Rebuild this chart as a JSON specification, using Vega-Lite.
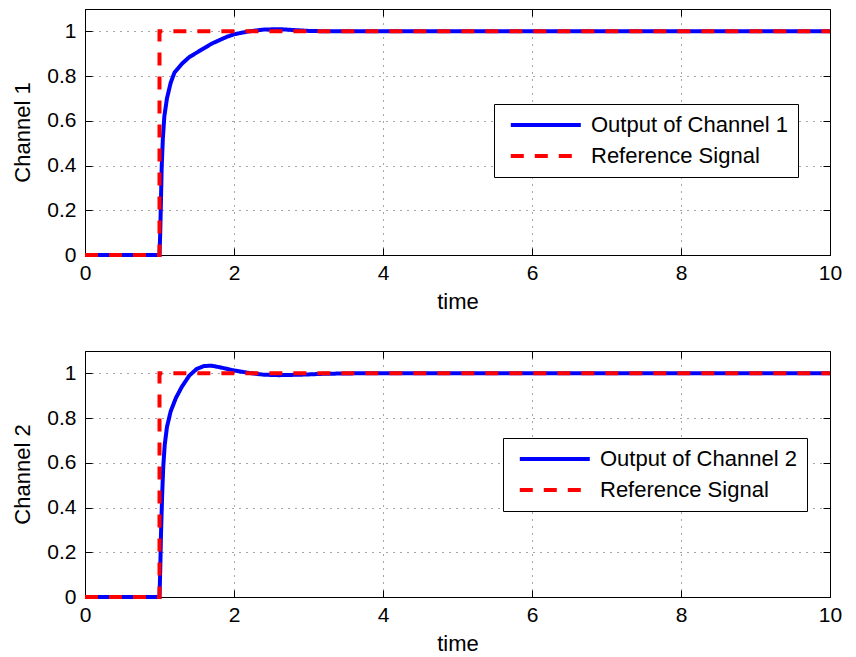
{
  "$schema": "https://vega.github.io/schema/vega-lite/v6.json",
  "padding": {"left": 11, "top": 8, "right": 20, "bottom": 5},
  "datasets": {
    "ch1": [
      {"t": 0, "v": 0, "series": "Output of Channel 1"},
      {"t": 1.0, "v": 0, "series": "Output of Channel 1"},
      {"t": 1.01, "v": 0.1, "series": "Output of Channel 1"},
      {"t": 1.02, "v": 0.25, "series": "Output of Channel 1"},
      {"t": 1.03, "v": 0.4, "series": "Output of Channel 1"},
      {"t": 1.045, "v": 0.52, "series": "Output of Channel 1"},
      {"t": 1.065, "v": 0.62, "series": "Output of Channel 1"},
      {"t": 1.1, "v": 0.7, "series": "Output of Channel 1"},
      {"t": 1.15, "v": 0.77, "series": "Output of Channel 1"},
      {"t": 1.2, "v": 0.815, "series": "Output of Channel 1"},
      {"t": 1.3, "v": 0.855, "series": "Output of Channel 1"},
      {"t": 1.4, "v": 0.885, "series": "Output of Channel 1"},
      {"t": 1.5, "v": 0.905, "series": "Output of Channel 1"},
      {"t": 1.6, "v": 0.925, "series": "Output of Channel 1"},
      {"t": 1.7, "v": 0.945, "series": "Output of Channel 1"},
      {"t": 1.8, "v": 0.96, "series": "Output of Channel 1"},
      {"t": 1.9, "v": 0.975, "series": "Output of Channel 1"},
      {"t": 2.0, "v": 0.987, "series": "Output of Channel 1"},
      {"t": 2.2, "v": 1.0, "series": "Output of Channel 1"},
      {"t": 2.4, "v": 1.008, "series": "Output of Channel 1"},
      {"t": 2.6, "v": 1.01, "series": "Output of Channel 1"},
      {"t": 2.8, "v": 1.006, "series": "Output of Channel 1"},
      {"t": 3.0, "v": 1.002, "series": "Output of Channel 1"},
      {"t": 3.3, "v": 1.0, "series": "Output of Channel 1"},
      {"t": 10, "v": 1.0, "series": "Output of Channel 1"},
      {"t": 0, "v": 0, "series": "Reference Signal"},
      {"t": 1, "v": 0, "series": "Reference Signal"},
      {"t": 1, "v": 1, "series": "Reference Signal"},
      {"t": 10, "v": 1, "series": "Reference Signal"}
    ],
    "ch2": [
      {"t": 0, "v": 0, "series": "Output of Channel 2"},
      {"t": 1.0, "v": 0, "series": "Output of Channel 2"},
      {"t": 1.01, "v": 0.12, "series": "Output of Channel 2"},
      {"t": 1.02, "v": 0.28, "series": "Output of Channel 2"},
      {"t": 1.035, "v": 0.45, "series": "Output of Channel 2"},
      {"t": 1.05, "v": 0.58, "series": "Output of Channel 2"},
      {"t": 1.07, "v": 0.68, "series": "Output of Channel 2"},
      {"t": 1.1, "v": 0.76, "series": "Output of Channel 2"},
      {"t": 1.15, "v": 0.83, "series": "Output of Channel 2"},
      {"t": 1.22, "v": 0.89, "series": "Output of Channel 2"},
      {"t": 1.3, "v": 0.94, "series": "Output of Channel 2"},
      {"t": 1.4, "v": 0.99, "series": "Output of Channel 2"},
      {"t": 1.5, "v": 1.02, "series": "Output of Channel 2"},
      {"t": 1.6, "v": 1.033, "series": "Output of Channel 2"},
      {"t": 1.7, "v": 1.034, "series": "Output of Channel 2"},
      {"t": 1.8, "v": 1.028, "series": "Output of Channel 2"},
      {"t": 2.0, "v": 1.013, "series": "Output of Channel 2"},
      {"t": 2.2, "v": 1.002, "series": "Output of Channel 2"},
      {"t": 2.4, "v": 0.994, "series": "Output of Channel 2"},
      {"t": 2.6, "v": 0.992, "series": "Output of Channel 2"},
      {"t": 2.9, "v": 0.994, "series": "Output of Channel 2"},
      {"t": 3.2, "v": 0.998, "series": "Output of Channel 2"},
      {"t": 3.6, "v": 1.0, "series": "Output of Channel 2"},
      {"t": 10, "v": 1.0, "series": "Output of Channel 2"},
      {"t": 0, "v": 0, "series": "Reference Signal"},
      {"t": 1, "v": 0, "series": "Reference Signal"},
      {"t": 1, "v": 1, "series": "Reference Signal"},
      {"t": 10, "v": 1, "series": "Reference Signal"}
    ]
  },
  "spacing": 37,
  "vconcat": [
    {
      "width": 745,
      "height": 246,
      "data": {"name": "ch1"},
      "layer": [
        {
          "mark": {"type": "line", "strokeWidth": 4},
          "encoding": {
            "x": {"field": "t", "type": "quantitative", "scale": {"domain": [0, 10], "nice": false},
                  "axis": {"title": "time", "values": [0, 2, 4, 6, 8, 10]}},
            "y": {"field": "v", "type": "quantitative", "scale": {"domain": [0, 1.1], "nice": false},
                  "axis": {"title": "Channel 1", "values": [0, 0.2, 0.4, 0.6, 0.8, 1], "labelExpr": "'' + datum.value"}},
            "color": {"field": "series", "type": "nominal",
                      "scale": {"domain": ["Output of Channel 1", "Reference Signal"], "range": ["#0000ff", "#ff0000"]},
                      "legend": {"orient": "none", "legendX": 409, "legendY": 95}},
            "strokeDash": {"field": "series", "type": "nominal",
                      "scale": {"domain": ["Output of Channel 1", "Reference Signal"], "range": [[1, 0], [13, 11]]},
                      "legend": {"orient": "none", "legendX": 409, "legendY": 95}}
          }
        },
        {
          "mark": {"type": "line", "opacity": 0},
          "encoding": {
            "x": {"field": "t", "type": "quantitative", "axis": {"orient": "top", "title": null, "labels": false, "grid": false, "values": [0, 2, 4, 6, 8, 10]}},
            "y": {"field": "v", "type": "quantitative", "axis": {"orient": "right", "title": null, "labels": false, "grid": false, "values": [0, 0.2, 0.4, 0.6, 0.8, 1]}}
          }
        }
      ],
      "resolve": {"axis": {"x": "independent", "y": "independent"}}
    },
    {
      "width": 745,
      "height": 246,
      "data": {"name": "ch2"},
      "layer": [
        {
          "mark": {"type": "line", "strokeWidth": 4},
          "encoding": {
            "x": {"field": "t", "type": "quantitative", "scale": {"domain": [0, 10], "nice": false},
                  "axis": {"title": "time", "values": [0, 2, 4, 6, 8, 10]}},
            "y": {"field": "v", "type": "quantitative", "scale": {"domain": [0, 1.1], "nice": false},
                  "axis": {"title": "Channel 2", "values": [0, 0.2, 0.4, 0.6, 0.8, 1], "labelExpr": "'' + datum.value"}},
            "color": {"field": "series", "type": "nominal",
                      "scale": {"domain": ["Output of Channel 2", "Reference Signal"], "range": ["#0000ff", "#ff0000"]},
                      "legend": {"orient": "none", "legendX": 418, "legendY": 87}},
            "strokeDash": {"field": "series", "type": "nominal",
                      "scale": {"domain": ["Output of Channel 2", "Reference Signal"], "range": [[1, 0], [13, 11]]},
                      "legend": {"orient": "none", "legendX": 418, "legendY": 87}}
          }
        },
        {
          "mark": {"type": "line", "opacity": 0},
          "encoding": {
            "x": {"field": "t", "type": "quantitative", "axis": {"orient": "top", "title": null, "labels": false, "grid": false, "values": [0, 2, 4, 6, 8, 10]}},
            "y": {"field": "v", "type": "quantitative", "axis": {"orient": "right", "title": null, "labels": false, "grid": false, "values": [0, 0.2, 0.4, 0.6, 0.8, 1]}}
          }
        }
      ],
      "resolve": {"axis": {"x": "independent", "y": "independent"}}
    }
  ],
  "resolve": {"scale": {"color": "independent", "strokeDash": "independent"}, "legend": {"color": "independent", "strokeDash": "independent"}},
  "config": {
    "font": "Liberation Sans",
    "background": "white",
    "view": {"stroke": "#000000", "strokeWidth": 1},
    "axis": {
      "domain": false,
      "ticks": true,
      "tickSize": -7,
      "tickColor": "#000000",
      "tickWidth": 1,
      "labelColor": "#000000",
      "labelFontSize": 21,
      "labelPadding": 14,
      "labelFlush": false,
      "titleColor": "#000000",
      "titleFontSize": 22,
      "titleFontWeight": "normal",
      "titlePadding": 8,
      "grid": true,
      "gridColor": "#000000",
      "gridDash": [1, 6],
      "gridOpacity": 0.7,
      "gridWidth": 1
    },
    "axisY": {"titlePadding": 12, "labelPadding": 16},
    "legend": {
      "title": null,
      "strokeColor": "#000000",
      "fillColor": "#ffffff",
      "padding": 10,
      "cornerRadius": 0,
      "symbolType": "M-0.6,0H9.4",
      "symbolSize": 196,
      "symbolStrokeWidth": 4,
      "labelFontSize": 22,
      "labelColor": "#000000",
      "labelOffset": 65,
      "labelLimit": 400,
      "rowPadding": 9
    }
  }
}
